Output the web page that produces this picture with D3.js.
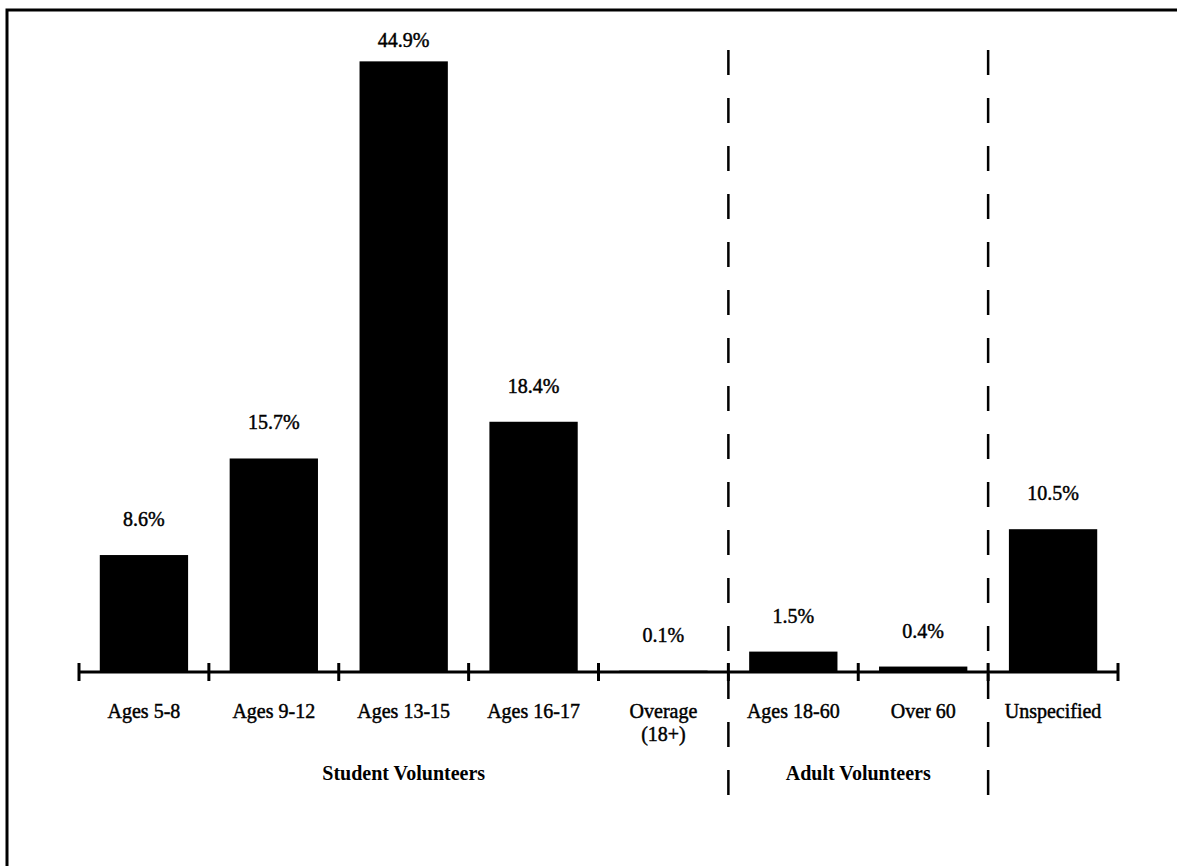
<!DOCTYPE html>
<html>
<head>
<meta charset="utf-8">
<script src="https://cdn.jsdelivr.net/npm/d3@7"></script>
<style>
  html, body { margin: 0; padding: 0; background: #fff; }
  svg { display: block; }
  text { font-family: "Liberation Serif", "Times New Roman", serif; fill: #000; }
  .lbl { stroke: #000; stroke-width: 0.45px; }
</style>
</head>
<body>
<script>
// Volunteer age breakdown (percent of all volunteers)
const categories = ["Ages 5-8", "Ages 9-12", "Ages 13-15", "Ages 16-17", "Overage (18+)", "Ages 18-60", "Over 60", "Unspecified"];
const categoryLines = [["Ages 5-8"], ["Ages 9-12"], ["Ages 13-15"], ["Ages 16-17"], ["Overage", "(18+)"], ["Ages 18-60"], ["Over 60"], ["Unspecified"]];
const percents = [8.6, 15.7, 44.9, 18.4, 0.1, 1.5, 0.4, 10.5];
const valueLabels = ["8.6%", "15.7%", "44.9%", "18.4%", "0.1%", "1.5%", "0.4%", "10.5%"];
const groupNames = ["Student Volunteers", "Adult Volunteers"];
const groupRanges = [[0, 4], [5, 6]];   // first and last category index in each group
const separatorsAfter = [4, 6];         // dashed divider after these category indices

const W = 1177, H = 866;
const baseY = 672;

const svg = d3.select("body").append("svg")
  .attr("width", W).attr("height", H);

// outer frame (top and left edges)
svg.append("path")
  .attr("d", `M7,${H} L7,10 L${W},10`)
  .attr("fill", "none").attr("stroke", "#000").attr("stroke-width", 3);

const x = d3.scaleBand()
  .domain(categories)
  .range([79, 1118])
  .paddingInner(0.32)
  .paddingOuter(0.16);

const y = d3.scaleLinear().domain([0, 45]).range([baseY, 60]);

const step = x.step();
const edge = i => x.range()[0] + i * step;   // boundary left of category i

// bars
svg.append("g").selectAll("rect")
  .data(percents)
  .join("rect")
  .attr("x", (d, i) => x(categories[i]))
  .attr("y", d => y(d))
  .attr("width", x.bandwidth())
  .attr("height", d => baseY - y(d))
  .attr("fill", "#000");

// value labels
svg.append("g").selectAll("text")
  .data(percents)
  .join("text")
  .attr("class", "lbl")
  .attr("x", (d, i) => x(categories[i]) + x.bandwidth() / 2)
  .attr("y", d => Math.max(y(d) - 29, 47))
  .attr("text-anchor", "middle")
  .attr("font-size", 20)
  .text((d, i) => valueLabels[i]);

// baseline with tick marks at category boundaries
svg.append("line")
  .attr("x1", edge(0)).attr("x2", edge(categories.length))
  .attr("y1", baseY).attr("y2", baseY)
  .attr("stroke", "#000").attr("stroke-width", 3);

svg.append("g").selectAll("line")
  .data(d3.range(categories.length + 1))
  .join("line")
  .attr("x1", i => edge(i)).attr("x2", i => edge(i))
  .attr("y1", baseY - 9).attr("y2", baseY + 9)
  .attr("stroke", "#000").attr("stroke-width", 3);

// category labels
const catG = svg.append("g").selectAll("text")
  .data(categoryLines)
  .join("text")
  .attr("class", "lbl")
  .attr("x", (d, i) => x(categories[i]) + x.bandwidth() / 2)
  .attr("y", 718)
  .attr("text-anchor", "middle")
  .attr("font-size", 20);
catG.selectAll("tspan")
  .data(d => d)
  .join("tspan")
  .attr("x", function () { return d3.select(this.parentNode).attr("x"); })
  .attr("dy", (d, j) => j === 0 ? 0 : 23)
  .text(d => d);

// dashed group dividers
svg.append("g").selectAll("line")
  .data(separatorsAfter)
  .join("line")
  .attr("x1", i => edge(i + 1)).attr("x2", i => edge(i + 1))
  .attr("y1", 50).attr("y2", 795)
  .attr("stroke", "#000").attr("stroke-width", 2.5)
  .attr("stroke-dasharray", "25,23");

// group labels
svg.append("g").selectAll("text")
  .data(groupNames)
  .join("text")
  .attr("x", (d, i) => (edge(groupRanges[i][0]) + edge(groupRanges[i][1] + 1)) / 2)
  .attr("y", 780)
  .attr("text-anchor", "middle")
  .attr("font-size", 20)
  .attr("font-weight", "bold")
  .text(d => d);
</script>
</body>
</html>
